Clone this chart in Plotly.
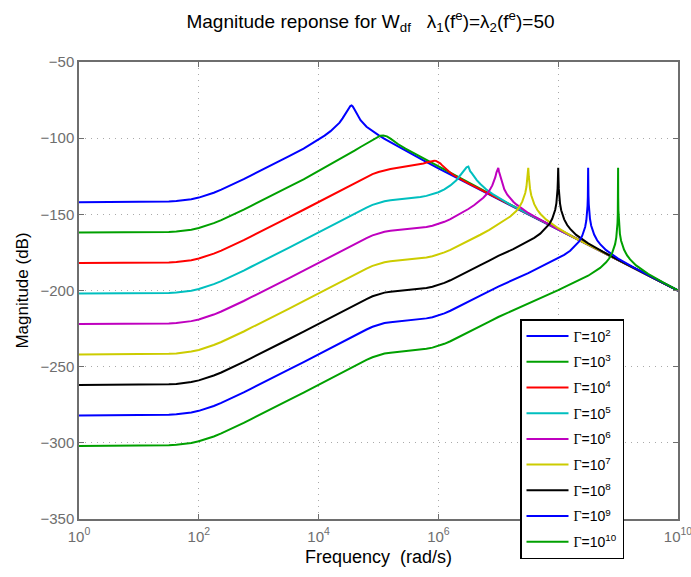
import plotly.graph_objects as go

# ---- data (log10 of frequency in rad/s, magnitude in dB) ----
GAMMA_EXP = [2, 3, 4, 5, 6, 7, 8, 9, 10]
COLORS = ["#0000ff", "#00a000", "#ff0000", "#00bfbf", "#bf00bf", "#cccc00", "#000000", "#0000ff", "#00a000"]

LOGF_G2 = [0, 1, 1.25, 1.5, 1.625, 1.75, 1.875, 2, 2.125, 2.25, 2.375, 2.5, 2.625, 2.75, 2.875, 3, 3.25, 3.5, 3.75, 4,
           4.1, 4.2, 4.3, 4.35, 4.4, 4.45, 4.5, 4.53, 4.55, 4.57, 4.6, 4.65, 4.7, 4.8, 4.9, 5.0, 5.1, 5.25, 5.5, 5.75, 6, 6.5, 7, 8, 9, 10]
MAG_G2 = [-142, -142, -141.9, -141.6, -141.3, -140.8, -140.1, -139.0, -137.6, -135.8, -133.8, -131.6, -129.3, -126.9, -124.4, -122.0, -117.0, -112.0, -106.8, -100.8,
          -98.3, -95.4, -91.9, -89.8, -87.0, -84.0, -80.6, -78.9, -78.5, -79.2, -81.2, -85.0, -88.2, -92.5, -95.5, -98.0, -100.4, -103.8, -109.3, -114.6, -119.8, -130, -140, -160, -180, -200]

LOGF_G3 = [0, 1, 1.25, 1.5, 1.625, 1.75, 1.875, 2, 2.125, 2.25, 2.375, 2.5, 2.625, 2.75, 2.875, 3, 3.25, 3.5, 3.75, 4,
           4.2, 4.35, 4.5, 4.6, 4.7, 4.8, 4.9, 4.97, 5.03, 5.08, 5.14, 5.2, 5.26, 5.33, 5.45, 5.6, 5.75, 5.9, 6.0, 6.2, 6.4, 6.6, 6.8, 7.0, 7.5, 8, 9, 10]
MAG_G3 = [-162, -162, -161.9, -161.6, -161.3, -160.8, -160.1, -159.0, -157.6, -155.8, -153.8, -151.6, -149.3, -146.9, -144.4, -142.0, -137.0, -132.0, -127.0, -121.6,
          -117.3, -114.0, -110.6, -108.2, -105.8, -103.6, -101.2, -99.5, -98.4, -98.2, -98.8, -100.3, -102.2, -104.0, -106.8, -110.0, -113.2, -116.3, -118.5, -122.8, -127.0, -131.2, -135.4, -139.6, -149.7, -159.8, -180, -200]

LOGF_G4 = [0, 1, 1.25, 1.5, 1.625, 1.75, 1.875, 2, 2.125, 2.25, 2.375, 2.5, 2.625, 2.75, 2.875, 3, 3.25, 3.5, 3.75, 4,
           4.2, 4.35, 4.5, 4.6, 4.7, 4.8, 4.9, 5.0, 5.1, 5.2, 5.3, 5.4, 5.5, 5.6, 5.7, 5.75, 5.8, 5.85, 5.9, 5.93, 5.96, 6.0,
           6.03, 6.06, 6.1, 6.14, 6.18, 6.25, 6.32, 6.4, 6.5, 6.6, 6.8, 7.0, 7.5, 8, 9, 10]
MAG_G4 = [-182, -182, -181.9, -181.6, -181.3, -180.8, -180.1, -179.0, -177.6, -175.8, -173.8, -171.6, -169.3, -166.9, -164.4, -162.0, -157.0, -152.0, -147.0, -141.8,
          -137.8, -134.8, -131.8, -129.8, -127.5, -125.4, -123.6, -122.2, -121.1, -120.3, -119.6, -119.0, -118.4, -117.8, -117.1, -116.6, -116.0, -115.4, -114.9, -114.8, -114.9, -115.6,
          -116.5, -117.7, -119.3, -120.8, -122.1, -124.2, -125.9, -127.7, -129.7, -131.6, -135.6, -139.7, -149.8, -159.9, -180, -200]

LOGF_G5 = [0, 1, 1.25, 1.5, 1.625, 1.75, 1.875, 2, 2.125, 2.25, 2.375, 2.5, 2.625, 2.75, 2.875, 3, 3.25, 3.5, 3.75, 4,
           4.2, 4.35, 4.5, 4.6, 4.7, 4.8, 4.9, 5.0, 5.1, 5.2, 5.3, 5.4, 5.5, 5.6, 5.7, 5.8, 5.9, 6.0,
           6.1, 6.2, 6.3, 6.36, 6.4, 6.44, 6.47, 6.5, 6.53, 6.56, 6.6, 6.64, 6.7, 6.8, 6.9, 7.0, 7.2, 7.5, 8, 9, 10]
MAG_G5 = [-202, -202, -201.9, -201.6, -201.3, -200.8, -200.1, -199.0, -197.6, -195.8, -193.8, -191.6, -189.3, -186.9, -184.4, -182.0, -177.0, -172.0, -167.0, -161.8,
          -157.8, -154.8, -151.8, -149.8, -147.7, -145.6, -143.8, -142.4, -141.4, -140.8, -140.4, -140.0, -139.6, -139.1, -138.6, -137.9, -136.9, -135.5,
          -133.6, -131.0, -127.6, -124.7, -122.8, -120.5, -119.1, -118.6, -121.7, -123.1, -125.4, -127.5, -130.1, -133.7, -136.6, -139.1, -143.6, -149.7, -159.9, -180, -200]

LOGF_G6 = [0, 1, 1.25, 1.5, 1.625, 1.75, 1.875, 2, 2.125, 2.25, 2.375, 2.5, 2.625, 2.75, 2.875, 3, 3.25, 3.5, 3.75, 4,
           4.2, 4.35, 4.5, 4.6, 4.7, 4.8, 4.9, 5.0, 5.1, 5.2, 5.3, 5.4, 5.5, 5.6, 5.7, 5.8, 5.9, 6.0,
           6.1, 6.2, 6.3, 6.4, 6.5, 6.6, 6.7, 6.75, 6.8, 6.85, 6.9, 6.93, 6.95, 6.97, 6.98, 6.99, 7.0,
           7.01, 7.02, 7.03, 7.05, 7.08, 7.1, 7.15, 7.2, 7.25, 7.3, 7.4, 7.5, 7.6, 7.7, 8, 9, 10]
MAG_G6 = [-222, -222, -221.9, -221.6, -221.3, -220.8, -220.1, -219.0, -217.6, -215.8, -213.8, -211.6, -209.3, -206.9, -204.4, -202.0, -197.0, -192.0, -187.0, -181.8,
          -177.8, -174.8, -171.8, -169.8, -167.7, -165.6, -163.8, -162.4, -161.4, -160.8, -160.4, -160.0, -159.6, -159.3, -158.9, -158.3, -157.5, -156.4,
          -154.9, -153.1, -151.0, -148.8, -146.5, -143.9, -140.9, -139.1, -137.0, -134.5, -131.0, -128.3, -125.6, -122.4, -120.8, -119.9, -119.5,
          -121.7, -123.1, -125.0, -128.2, -131.8, -133.6, -137.1, -139.6, -141.7, -143.5, -146.5, -149.1, -151.4, -153.6, -159.9, -180, -200]

LOGF_G7 = [0, 1, 1.25, 1.5, 1.625, 1.75, 1.875, 2, 2.125, 2.25, 2.375, 2.5, 2.625, 2.75, 2.875, 3, 3.25, 3.5, 3.75, 4,
           4.2, 4.35, 4.5, 4.6, 4.7, 4.8, 4.9, 5.0, 5.1, 5.2, 5.3, 5.4, 5.5, 5.6, 5.7, 5.8, 5.9, 6.0,
           6.1, 6.2, 6.3, 6.4, 6.5, 6.6, 6.7, 6.85, 7.0, 7.1, 7.2, 7.3, 7.35, 7.4, 7.43, 7.45, 7.47, 7.48, 7.49, 7.5,
           7.51, 7.52, 7.53, 7.55, 7.57, 7.6, 7.65, 7.7, 7.8, 7.9, 8.0, 8.25, 8.5, 9, 10]
MAG_G7 = [-242, -242, -241.9, -241.6, -241.3, -240.8, -240.1, -239.0, -237.6, -235.8, -233.8, -231.6, -229.3, -226.9, -224.4, -222.0, -217.0, -212.0, -207.0, -201.8,
          -197.8, -194.8, -191.8, -189.8, -187.7, -185.6, -183.8, -182.4, -181.4, -180.8, -180.4, -180.0, -179.6, -179.3, -178.9, -178.3, -177.5, -176.4,
          -175.0, -173.3, -171.4, -169.4, -167.4, -165.4, -163.4, -160.2, -156.5, -154.2, -151.4, -147.8, -145.3, -141.7, -138.8, -136.0, -131.9, -128.5, -123.9, -119.5,
          -125.3, -129.9, -133.3, -137.5, -140.2, -143.3, -147.0, -149.6, -153.5, -156.5, -159.1, -164.9, -169.9, -180, -200]

LOGF_G8 = [0, 1, 1.25, 1.5, 1.625, 1.75, 1.875, 2, 2.125, 2.25, 2.375, 2.5, 2.625, 2.75, 2.875, 3, 3.25, 3.5, 3.75, 4,
           4.2, 4.35, 4.5, 4.6, 4.7, 4.8, 4.9, 5.0, 5.1, 5.2, 5.3, 5.4, 5.5, 5.6, 5.7, 5.8, 5.9, 6.0,
           6.1, 6.2, 6.3, 6.4, 6.5, 6.6, 6.7, 6.85, 7.0, 7.25, 7.5, 7.6, 7.7, 7.8, 7.85, 7.9, 7.93, 7.95, 7.97, 7.98, 7.99, 7.995, 8.0,
           8.005, 8.01, 8.02, 8.03, 8.05, 8.07, 8.1, 8.15, 8.2, 8.3, 8.4, 8.5, 8.75, 9, 10]
MAG_G8 = [-262, -262, -261.9, -261.6, -261.3, -260.8, -260.1, -259.0, -257.6, -255.8, -253.8, -251.6, -249.3, -246.9, -244.4, -242.0, -237.0, -232.0, -227.0, -221.8,
          -217.8, -214.8, -211.8, -209.8, -207.7, -205.6, -203.8, -202.4, -201.4, -200.8, -200.4, -200.0, -199.6, -199.3, -198.9, -198.3, -197.5, -196.4,
          -195.0, -193.3, -191.4, -189.4, -187.4, -185.4, -183.4, -180.4, -177.3, -172.8, -167.8, -165.4, -162.7, -159.0, -156.5, -152.9, -149.9, -147.0, -142.6, -139.1, -133.1, -127.1, -119.5,
          -127.3, -133.3, -139.3, -142.8, -147.3, -150.2, -153.3, -157.0, -159.6, -163.5, -166.5, -169.1, -174.7, -179.9, -200]

LOGF_G9 = [0, 1, 1.25, 1.5, 1.625, 1.75, 1.875, 2, 2.125, 2.25, 2.375, 2.5, 2.625, 2.75, 2.875, 3, 3.25, 3.5, 3.75, 4,
           4.2, 4.35, 4.5, 4.6, 4.7, 4.8, 4.9, 5.0, 5.1, 5.2, 5.3, 5.4, 5.5, 5.6, 5.7, 5.8, 5.9, 6.0,
           6.1, 6.2, 6.3, 6.4, 6.5, 6.6, 6.7, 6.85, 7.0, 7.5, 8.0, 8.1, 8.2, 8.3, 8.35, 8.4, 8.43, 8.45, 8.47, 8.48, 8.49, 8.495, 8.498, 8.5,
           8.502, 8.505, 8.51, 8.52, 8.53, 8.55, 8.57, 8.6, 8.65, 8.7, 8.8, 8.9, 9.0, 9.25, 9.5, 10]
MAG_G9 = [-282, -282, -281.9, -281.6, -281.3, -280.8, -280.1, -279.0, -277.6, -275.8, -273.8, -271.6, -269.3, -266.9, -264.4, -262.0, -257.0, -252.0, -247.0, -241.8,
          -237.8, -234.8, -231.8, -229.8, -227.7, -225.6, -223.8, -222.4, -221.4, -220.8, -220.4, -220.0, -219.6, -219.3, -218.9, -218.3, -217.5, -216.4,
          -215.0, -213.3, -211.4, -209.4, -207.4, -205.4, -203.4, -200.4, -197.4, -188.6, -179.0, -176.6, -173.9, -170.2, -167.8, -164.2, -161.2, -158.3, -153.9, -150.4, -144.4, -138.4, -130.5, -119.5,
          -129.3, -137.3, -143.3, -149.3, -152.8, -157.3, -160.2, -163.3, -167.0, -169.6, -173.5, -176.5, -179.1, -184.7, -189.9, -200]

LOGF_G10 = [0, 1, 1.25, 1.5, 1.625, 1.75, 1.875, 2, 2.125, 2.25, 2.375, 2.5, 2.625, 2.75, 2.875, 3, 3.25, 3.5, 3.75, 4,
            4.2, 4.35, 4.5, 4.6, 4.7, 4.8, 4.9, 5.0, 5.1, 5.2, 5.3, 5.4, 5.5, 5.6, 5.7, 5.8, 5.9, 6.0,
            6.1, 6.2, 6.3, 6.4, 6.5, 6.6, 6.7, 6.85, 7.0, 7.5, 8.0, 8.5, 8.6, 8.7, 8.8, 8.85, 8.9, 8.93, 8.95, 8.97, 8.98, 8.99, 8.995, 8.998, 9.0,
            9.002, 9.005, 9.01, 9.02, 9.03, 9.05, 9.07, 9.1, 9.15, 9.2, 9.3, 9.4, 9.5, 9.75, 10]
MAG_G10 = [-302, -302, -301.9, -301.6, -301.3, -300.8, -300.1, -299.0, -297.6, -295.8, -293.8, -291.6, -289.3, -286.9, -284.4, -282.0, -277.0, -272.0, -267.0, -261.8,
           -257.8, -254.8, -251.8, -249.8, -247.7, -245.6, -243.8, -242.4, -241.4, -240.8, -240.4, -240.0, -239.6, -239.3, -238.9, -238.3, -237.5, -236.4,
           -235.0, -233.3, -231.4, -229.4, -227.4, -225.4, -223.4, -220.4, -217.4, -208.6, -199.8, -190.3, -187.9, -185.2, -181.5, -179.0, -175.5, -172.4, -169.6, -165.1, -161.7, -155.7, -149.7, -141.8, -119.5,
           -139.3, -147.3, -153.3, -159.3, -162.8, -167.3, -170.2, -173.3, -177.0, -179.6, -183.5, -186.5, -189.1, -194.7, -199.9]

X_TICK_EXP = [0, 2, 4, 6, 8, 10]
X_TICK_SHOWN = [True, True, True, True, False, True]  # 10^8 is hidden behind the legend in the reference
Y_TICKS = [-350, -300, -250, -200, -150, -100, -50]

SERIES = [
    (LOGF_G2, MAG_G2), (LOGF_G3, MAG_G3), (LOGF_G4, MAG_G4), (LOGF_G5, MAG_G5),
    (LOGF_G6, MAG_G6), (LOGF_G7, MAG_G7), (LOGF_G8, MAG_G8), (LOGF_G9, MAG_G9),
    (LOGF_G10, MAG_G10),
]

AXIS_GREY = "#6e6e6e"
FONT = "Liberation Sans, Arial, Helvetica, sans-serif"

fig = go.Figure()
for i, ((lf, mag), ge, col) in enumerate(zip(SERIES, GAMMA_EXP, COLORS)):
    fig.add_trace(go.Scatter(
        x=[10 ** e for e in lf], y=mag, mode="lines",
        line=dict(color=col, width=2),
        name="<span style=\"font-family:'Liberation Serif'\">Γ</span>=10<sup>%d</sup>" % ge,
        legendgroup="g%d" % i,
    ))

fig.update_layout(
    width=691, height=577,
    margin=dict(l=79, r=13, t=62, b=58, autoexpand=False),
    paper_bgcolor="white", plot_bgcolor="white",
    font=dict(family=FONT, color="black"),
    title=dict(
        text="Magnitude reponse for W<sub>df</sub>\u00a0\u00a0 λ<sub>1</sub>(f<sup>e</sup>)=λ<sub>2</sub>(f<sup>e</sup>)=50",
        x=(370.5 - 79) / 599, xref="paper", xanchor="center",
        y=1 - 21 / 577, yref="container", yanchor="middle",
        font=dict(size=19, color="black", family=FONT),
    ),
    showlegend=True,
    legend=dict(
        x=(520 - 79) / 599, y=(519 - 319) / 457, xanchor="left", yanchor="top",
        bgcolor="white", bordercolor="black", borderwidth=1.5,
        font=dict(size=14, color="black", family=FONT),
        traceorder="grouped", tracegroupgap=4.5, itemwidth=42,
    ),
    annotations=[dict(
        text="Frequency\u00a0 (rad/s)", xref="paper", yref="paper",
        x=(378.5 - 79) / 599, y=-(557 - 519) / 457, xanchor="center", yanchor="middle",
        showarrow=False, font=dict(size=18, color="black", family=FONT),
    )],
)

fig.update_xaxes(
    type="log", range=[0, 10], automargin=False,
    tickvals=[10 ** e for e in X_TICK_EXP],
    ticktext=[("10<sup>%d</sup>" % e) if s else "" for e, s in zip(X_TICK_EXP, X_TICK_SHOWN)],
    tickfont=dict(size=15, color=AXIS_GREY, family=FONT),
    ticklabeloverflow="allow", ticklabelstandoff=3,
    showgrid=True, gridcolor="#aaaaaa", gridwidth=1, griddash="1px,5px",
    showline=True, linecolor=AXIS_GREY, linewidth=1.5, mirror="ticks",
    ticks="inside", ticklen=5, tickcolor=AXIS_GREY, tickwidth=1,
    zeroline=False,
)
fig.update_yaxes(
    range=[-350, -50], tickvals=Y_TICKS, automargin=False,
    tickfont=dict(size=15, color=AXIS_GREY, family=FONT),
    showgrid=True, gridcolor="#aaaaaa", gridwidth=1, griddash="1px,5px",
    showline=True, linecolor=AXIS_GREY, linewidth=1.5, mirror="ticks",
    ticks="inside", ticklen=5, tickcolor=AXIS_GREY, tickwidth=1,
    zeroline=False,
    title=dict(text="Magnitude (dB)", font=dict(size=17, color="black", family=FONT), standoff=8),
)

fig.write_html("out.html")
